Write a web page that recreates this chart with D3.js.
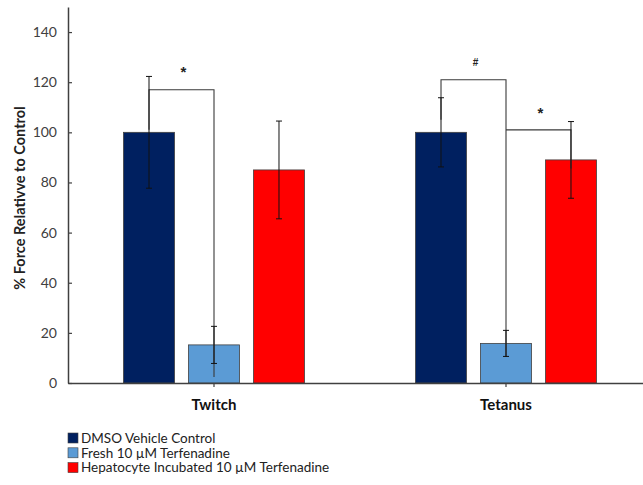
<!DOCTYPE html>
<html>
<head>
<meta charset="utf-8">
<script src="https://cdn.jsdelivr.net/npm/d3@7"></script>
<style>
  body { margin: 0; background: #fff; }
  svg { display: block; }
  text { font-family: Lato, "Liberation Sans", Arial, sans-serif; }
</style>
</head>
<body>
<svg id="chart" width="643" height="485"></svg>
<script>
// data
let categories = ['Twitch', 'Tetanus'];
let seriesNames = ['DMSO Vehicle Control', 'Fresh 10 \u00B5M Terfenadine', 'Hepatocyte Incubated 10 \u00B5M Terfenadine'];
let seriesColors = ['#002060', '#5B9BD5', '#FF0000'];
let twitchMeans = [100, 15.2, 85];
let twitchErrors = [22.3, 7.4, 19.5];
let tetanusMeans = [100, 15.8, 89];
let tetanusErrors = [13.8, 5.2, 15.3];
let yTicks = [0, 20, 40, 60, 80, 100, 120, 140];

// significance brackets: category, left bar, right bar, top, leg ends, label
let brackets = [
    {cat: 'Twitch', from: 0, to: 1, top: 117, leftEnd: 101, rightEnd: 2.4, label: '*', labelAt: 124},
    {cat: 'Tetanus', from: 0, to: 1, top: 121, leftEnd: 105, rightEnd: 10.5, label: '#', labelAt: 128},
    {cat: 'Tetanus', from: 1, to: 2, top: 101, leftEnd: 101, rightEnd: 85.6, label: '*', labelAt: 108}
];

let means = {Twitch: twitchMeans, Tetanus: tetanusMeans};
let errors = {Twitch: twitchErrors, Tetanus: tetanusErrors};

let svg = d3.select('#chart');
let plotLeft = 68, plotRight = 652, plotTop = 7, plotBottom = 383;

let yScale = d3.scaleLinear()
    .domain([0, 150])
    .range([plotBottom, plotTop]);

let x0 = d3.scaleBand()
    .domain(categories)
    .range([plotLeft, plotRight]);

let x1 = d3.scaleBand()
    .domain(d3.range(seriesNames.length))
    .range([0, x0.bandwidth()])
    .paddingInner(0.215)
    .paddingOuter(0.854);

let rows = [];
categories.forEach(function (c) {
    seriesNames.forEach(function (s, i) {
        rows.push({cat: c, i: i, v: means[c][i], e: errors[c][i]});
    });
});

function barCenter(c, i) {
    return x0(c) + x1(i) + x1.bandwidth() / 2;
}

// bars
svg.selectAll('.bar')
    .data(rows)
    .enter()
    .append('rect')
    .attr('class', 'bar')
    .attr('x', function (d) { return x0(d.cat) + x1(d.i); })
    .attr('y', function (d) { return yScale(d.v); })
    .attr('width', x1.bandwidth())
    .attr('height', function (d) { return plotBottom - yScale(d.v); })
    .style('fill', function (d) { return seriesColors[d.i]; })
    .style('stroke', '#404040')
    .style('stroke-width', 0.8);

// brackets
let br = svg.selectAll('.bracket')
    .data(brackets)
    .enter()
    .append('g')
    .attr('class', 'bracket');

br.append('path')
    .attr('d', function (d) {
        let xa = barCenter(d.cat, d.from), xb = barCenter(d.cat, d.to);
        return `M${xa},${yScale(d.leftEnd)}V${yScale(d.top)}H${xb}V${yScale(d.rightEnd)}`;
    })
    .style('fill', 'none')
    .style('stroke', '#3a3a3a')
    .style('stroke-width', 1.1);

br.append('text')
    .attr('x', function (d) { return (barCenter(d.cat, d.from) + barCenter(d.cat, d.to)) / 2 + 2; })
    .attr('y', function (d) { return yScale(d.labelAt); })
    .attr('dy', '0.35em')
    .attr('text-anchor', 'middle')
    .style('font-family', '"Liberation Sans", Arial, sans-serif')
    .style('font-size', function (d) { return d.label == '#' ? '10px' : '15px'; })
    .style('font-weight', 'bold')
    .style('fill', '#222')
    .text(function (d) { return d.label; });

// error bars
let eb = svg.selectAll('.err')
    .data(rows)
    .enter()
    .append('g')
    .attr('class', 'err')
    .style('stroke', '#111')
    .style('stroke-width', 1);

eb.append('line')
    .attr('x1', function (d) { return barCenter(d.cat, d.i); })
    .attr('x2', function (d) { return barCenter(d.cat, d.i); })
    .attr('y1', function (d) { return yScale(d.v + d.e); })
    .attr('y2', function (d) { return yScale(d.v - d.e); });

[1, -1].forEach(function (sign) {
    eb.append('line')
        .attr('x1', function (d) { return barCenter(d.cat, d.i) - 3; })
        .attr('x2', function (d) { return barCenter(d.cat, d.i) + 3; })
        .attr('y1', function (d) { return yScale(d.v + sign * d.e); })
        .attr('y2', function (d) { return yScale(d.v + sign * d.e); });
});

// y axis
let yAxis = svg.append('g')
    .attr('transform', `translate(${plotLeft},0)`)
    .call(d3.axisLeft(yScale).tickValues(yTicks).tickSizeInner(-4).tickSizeOuter(0).tickPadding(11));
yAxis.select('.domain').style('stroke', '#404040').style('stroke-width', 1.5);
yAxis.selectAll('.tick line').style('stroke', '#404040').style('stroke-width', 1.2);
yAxis.selectAll('.tick text')
    .style('font-size', '14px')
    .style('fill', '#404040')
    .style('font-family', 'Lato, "Liberation Sans", Arial, sans-serif');

// x axis
let xAxis = svg.append('g')
    .attr('transform', `translate(0,${plotBottom})`)
    .call(d3.axisBottom(x0).tickSizeInner(4).tickSizeOuter(0).tickPadding(12));
xAxis.select('.domain').style('stroke', '#404040').style('stroke-width', 1.5);
xAxis.selectAll('.tick line').style('stroke', '#404040').style('stroke-width', 1.2);
xAxis.selectAll('.tick text')
    .style('font-size', '15px')
    .style('font-weight', 'bold')
    .style('fill', '#111')
    .style('font-family', 'Lato, "Liberation Sans", Arial, sans-serif');

// y title
svg.append('text')
    .attr('transform', `translate(25,${(plotTop + plotBottom) / 2 + 3}) rotate(-90)`)
    .attr('text-anchor', 'middle')
    .style('font-size', '14.5px')
    .style('font-weight', 'bold')
    .style('fill', '#222')
    .text('% Force Relativve to Control');

// legend
let legend = svg.selectAll('.legend')
    .data(seriesNames)
    .enter()
    .append('g')
    .attr('class', 'legend')
    .attr('transform', function (d, i) { return `translate(68,${438 + i * 14.8})`; });

legend.append('rect')
    .attr('x', 0)
    .attr('y', -5)
    .attr('width', 10)
    .attr('height', 10)
    .style('fill', function (d, i) { return seriesColors[i]; })
    .style('stroke', '#404040')
    .style('stroke-width', 0.6);

legend.append('text')
    .attr('x', 13)
    .attr('y', 0)
    .attr('dy', '0.35em')
    .style('font-size', '13.5px')
    .style('fill', '#222')
    .text(function (d) { return d; });
</script>
</body>
</html>
